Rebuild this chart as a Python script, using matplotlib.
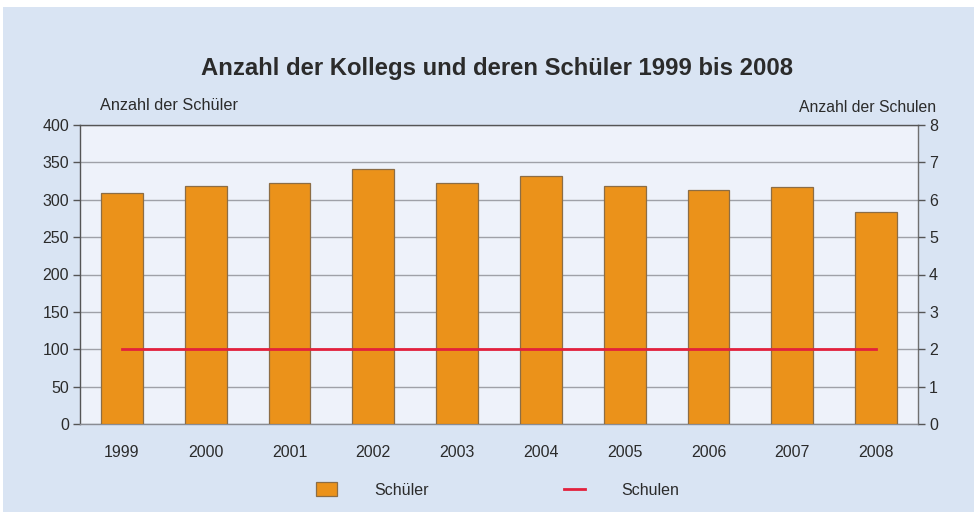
import matplotlib
matplotlib.use("Agg")
import matplotlib.pyplot as plt
from matplotlib.patches import Rectangle
from matplotlib.lines import Line2D
import numpy as np

years = ["1999", "2000", "2001", "2002", "2003", "2004", "2005", "2006", "2007", "2008"]
schueler = [309, 319, 322, 341, 323, 332, 319, 313, 317, 284]
schulen = [2, 2, 2, 2, 2, 2, 2, 2, 2, 2]

plt.rcParams['font.family'] = ['Liberation Sans', 'DejaVu Sans']

BG = "#d9e4f3"
PLOT_BG = "#eef2fa"
BAR = "#eb921a"
BAR_EDGE = "#8c6d45"
RED = "#e3203c"
TXT = "#2b2b2b"

fig = plt.figure(figsize=(9.74, 5.12), dpi=100, facecolor="white")
fig.patches.append(Rectangle((3/974, 0), 1, 1 - 7/512, transform=fig.transFigure,
                             facecolor=BG, edgecolor="none", zorder=-10))

ax = fig.add_axes([80/974, 1 - 424/512, 838/974, 299/512])
ax.set_facecolor(PLOT_BG)
x = np.arange(len(years))
bars = ax.bar(x, schueler, width=0.5, color=BAR, edgecolor=BAR_EDGE, linewidth=0.9, zorder=3)
ax.set_ylim(0, 400)
ax.set_xlim(-0.5, len(years) - 0.5)
ax.set_yticks(np.arange(0, 401, 50))
ax.set_xticks(x)
ax.set_xticklabels(years)
ax.yaxis.grid(True, color="#9fa1a8", linewidth=1.0, zorder=0)
ax.set_axisbelow(True)
ax.tick_params(axis="y", direction="out", length=5, width=1, colors="#555555",
               labelcolor=TXT, labelsize=11.5, pad=3)
ax.tick_params(axis="x", length=0, labelcolor=TXT, labelsize=11.5, pad=15)
for s in ["left", "right", "top", "bottom"]:
    ax.spines[s].set_color("#555555")
    ax.spines[s].set_linewidth(1.0)
ax.spines["bottom"].set_color("#8a8c93")

ax2 = ax.twinx()
line, = ax2.plot(x, schulen, color=RED, linewidth=2, zorder=5)
ax2.set_ylim(0, 8)
ax2.set_yticks(range(0, 9))
ax2.tick_params(axis="y", direction="out", length=5, width=1, colors="#555555",
                labelcolor=TXT, labelsize=11.5, pad=3)
for s in ["left", "right", "top", "bottom"]:
    ax2.spines[s].set_visible(False)
ax.spines["right"].set_color("#707070")

fig.text(497/974, 1 - 69/512, "Anzahl der Kollegs und deren Schüler 1999 bis 2008",
         ha="center", va="center", fontsize=17.2, fontweight="bold", color=TXT)
fig.text(100/974, 1 - 105/512, "Anzahl der Schüler", ha="left", va="center",
         fontsize=11.7, color=TXT)
fig.text(936/974, 1 - 108/512, "Anzahl der Schulen", ha="right", va="center",
         fontsize=11.3, color=TXT)

h1 = Rectangle((0, 0), 1, 1, facecolor=BAR, edgecolor=BAR_EDGE, linewidth=0.9)
h2 = Line2D([0], [0], color=RED, linewidth=2)
fig.legend([h1, h2], ["Schüler", "Schulen"], loc="center", ncol=2,
           bbox_to_anchor=(498/974, 1 - 490/512), frameon=False, fontsize=11.5,
           handlelength=1.3, handleheight=1.0, handletextpad=2.3, columnspacing=8.5,
           labelcolor=TXT)

fig.savefig("out.png", dpi=100, facecolor=fig.get_facecolor())
